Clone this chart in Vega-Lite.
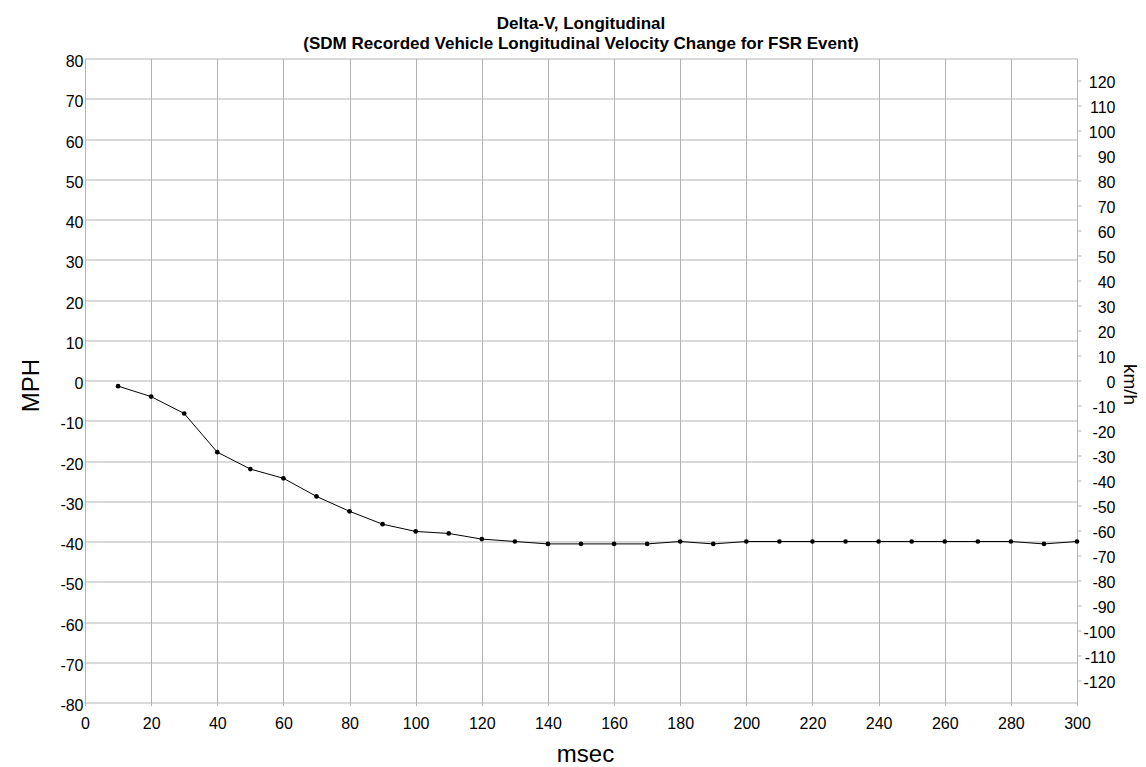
{
  "$schema": "https://vega.github.io/schema/vega-lite/v6.json",
  "width": 992,
  "height": 644,
  "autosize": "none",
  "padding": {"left": 85, "top": 58.5, "right": 69, "bottom": 64.5},
  "background": "white",
  "config": {"view": {"stroke": null}, "font": "Liberation Sans"},
  "title": {
    "text": ["Delta-V, Longitudinal", "(SDM Recorded Vehicle Longitudinal Velocity Change for FSR Event)"],
    "font": "Liberation Sans",
    "fontSize": 17,
    "fontWeight": "bold",
    "color": "black",
    "anchor": "middle",
    "frame": "group",
    "baseline": "bottom",
    "lineHeight": 20,
    "offset": 6.5,
    "dy": 22.5
  },
  "data": {
    "values": [
      {"ms": 10, "mph": -1.4},
      {"ms": 20, "mph": -4.0},
      {"ms": 30, "mph": -8.2},
      {"ms": 40, "mph": -17.8},
      {"ms": 50, "mph": -22.0},
      {"ms": 60, "mph": -24.3},
      {"ms": 70, "mph": -28.8},
      {"ms": 80, "mph": -32.5},
      {"ms": 90, "mph": -35.7},
      {"ms": 100, "mph": -37.5},
      {"ms": 110, "mph": -38.0},
      {"ms": 120, "mph": -39.4},
      {"ms": 130, "mph": -40.0},
      {"ms": 140, "mph": -40.6},
      {"ms": 150, "mph": -40.6},
      {"ms": 160, "mph": -40.6},
      {"ms": 170, "mph": -40.6},
      {"ms": 180, "mph": -40.0},
      {"ms": 190, "mph": -40.6},
      {"ms": 200, "mph": -40.0},
      {"ms": 210, "mph": -40.0},
      {"ms": 220, "mph": -40.0},
      {"ms": 230, "mph": -40.0},
      {"ms": 240, "mph": -40.0},
      {"ms": 250, "mph": -40.0},
      {"ms": 260, "mph": -40.0},
      {"ms": 270, "mph": -40.0},
      {"ms": 280, "mph": -40.0},
      {"ms": 290, "mph": -40.6},
      {"ms": 300, "mph": -40.0}
    ]
  },
  "encoding": {
    "x": {
      "field": "ms",
      "type": "quantitative",
      "scale": {"domain": [0, 300], "nice": false, "zero": false},
      "axis": {
        "orient": "bottom",
        "values": [0, 20, 40, 60, 80, 100, 120, 140, 160, 180, 200, 220, 240, 260, 280, 300],
        "grid": true,
        "gridColor": "#b3b3b3",
        "gridOpacity": 1,
        "domain": false,
        "ticks": true,
        "tickSize": 3,
        "tickColor": "#b3b3b3",
        "labelFont": "Liberation Sans",
        "labelFontSize": 16,
        "labelColor": "black",
        "labelPadding": 10,
        "labelOverlap": false,
        "labelFlush": false,
        "title": "msec",
        "titleFont": "Liberation Sans",
        "titleFontSize": 24,
        "titleFontWeight": "normal",
        "titleColor": "black",
        "titleX": 500,
        "titleY": 59,
        "titleAlign": "center",
        "titleBaseline": "alphabetic"
      }
    }
  },
  "layer": [
    {
      "mark": {"type": "line", "color": "black", "strokeWidth": 1, "point": {"filled": true, "color": "black", "size": 22, "opacity": 1}},
      "encoding": {
        "y": {
          "field": "mph",
          "type": "quantitative",
          "scale": {"domain": [-80, 80], "nice": false, "zero": false},
          "axis": {
            "orient": "left",
            "values": [-80, -70, -60, -50, -40, -30, -20, -10, 0, 10, 20, 30, 40, 50, 60, 70, 80],
            "labelExpr": "toString(datum.value)",
            "grid": true,
            "gridColor": "#b3b3b3",
            "gridOpacity": 1,
            "domain": false,
            "ticks": false,
            "labelFont": "Liberation Sans",
            "labelFontSize": 16,
            "labelColor": "black",
            "labelPadding": 2,
            "labelBaseline": "middle",
            "labelOffset": 3,
            "labelOverlap": false,
            "labelFlush": false,
            "title": "MPH",
            "titleFont": "Liberation Sans",
            "titleFontSize": 24,
            "titleFontWeight": "normal",
            "titleColor": "black",
            "titleX": -47,
            "titleY": 326.5,
            "titleAlign": "center",
            "titleBaseline": "alphabetic",
            "titleAngle": -90
          }
        }
      }
    },
    {
      "data": {"values": [{"kmh": -128.75}, {"kmh": 128.75}]},
      "mark": {"type": "point", "opacity": 0},
      "encoding": {
        "x": {"datum": 0, "type": "quantitative"},
        "y": {
          "field": "kmh",
          "type": "quantitative",
          "scale": {"domain": [-128.75, 128.75], "nice": false, "zero": false},
          "axis": {
            "orient": "right",
            "values": [-120, -110, -100, -90, -80, -70, -60, -50, -40, -30, -20, -10, 0, 10, 20, 30, 40, 50, 60, 70, 80, 90, 100, 110, 120],
            "labelExpr": "toString(datum.value)",
            "grid": false,
            "domain": false,
            "ticks": true,
            "tickSize": 4,
            "tickColor": "#b3b3b3",
            "labelFont": "Liberation Sans",
            "labelFontSize": 16,
            "labelColor": "black",
            "labelAlign": "right",
            "labelPadding": 34,
            "labelBaseline": "middle",
            "labelOffset": 2,
            "labelOverlap": false,
            "labelFlush": false,
            "title": "km/h",
            "titleFont": "Liberation Sans",
            "titleFontSize": 19,
            "titleFontWeight": "normal",
            "titleColor": "black",
            "titleX": 46,
            "titleY": 325.5,
            "titleAlign": "center",
            "titleBaseline": "alphabetic",
            "titleAngle": 90
          }
        }
      }
    }
  ],
  "resolve": {"scale": {"y": "independent"}}
}
